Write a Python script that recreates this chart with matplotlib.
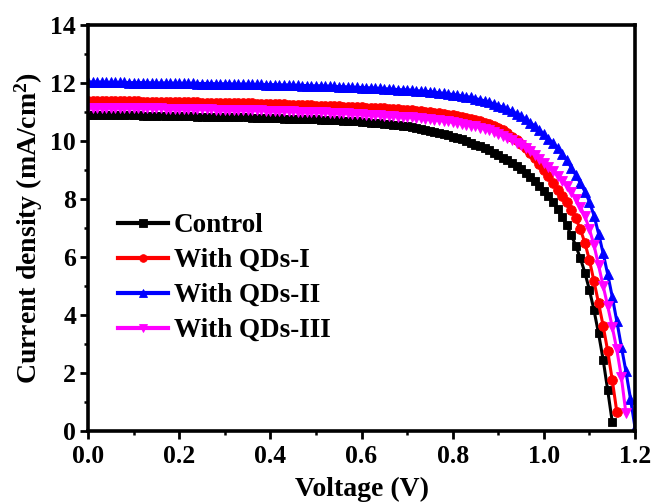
import numpy as np
import matplotlib
matplotlib.use("Agg")
import matplotlib.pyplot as plt
from matplotlib.ticker import MultipleLocator

# J-V sweep: current density (mA/cm^2) sampled every 10 mV from 0 V
voltage_step = 0.01

control = [
    10.90, 10.90, 10.90, 10.89, 10.89, 10.89, 10.89, 10.88, 10.88, 10.88,
    10.88, 10.88, 10.87, 10.87, 10.87, 10.87, 10.86, 10.86, 10.86, 10.86,
    10.86, 10.85, 10.85, 10.85, 10.84, 10.84, 10.84, 10.83, 10.83, 10.83,
    10.83, 10.82, 10.82, 10.81, 10.81, 10.81, 10.80, 10.80, 10.79, 10.79,
    10.79, 10.78, 10.78, 10.77, 10.77, 10.76, 10.76, 10.75, 10.75, 10.74,
    10.74, 10.73, 10.73, 10.72, 10.71, 10.71, 10.70, 10.69, 10.68, 10.67,
    10.66, 10.65, 10.63, 10.62, 10.60, 10.59, 10.58, 10.56, 10.54, 10.52,
    10.50, 10.47, 10.44, 10.41, 10.38, 10.35, 10.31, 10.27, 10.23, 10.19,
    10.14, 10.10, 10.05, 9.99, 9.93, 9.87, 9.81, 9.74, 9.67, 9.59,
    9.50, 9.42, 9.33, 9.23, 9.13, 9.02, 8.90, 8.76, 8.61, 8.45,
    8.28, 8.10, 7.90, 7.65, 7.38, 7.08, 6.75, 6.38, 5.95, 5.45,
    4.85, 4.15, 3.35, 2.45, 1.40, 0.30,
]

qds_1 = [
    11.38, 11.38, 11.38, 11.37, 11.37, 11.37, 11.37, 11.36, 11.36, 11.36,
    11.36, 11.36, 11.35, 11.35, 11.35, 11.35, 11.35, 11.34, 11.34, 11.34,
    11.34, 11.34, 11.33, 11.33, 11.33, 11.32, 11.32, 11.32, 11.31, 11.31,
    11.31, 11.30, 11.30, 11.30, 11.29, 11.29, 11.29, 11.28, 11.28, 11.27,
    11.27, 11.27, 11.26, 11.26, 11.25, 11.25, 11.24, 11.24, 11.23, 11.23,
    11.22, 11.22, 11.21, 11.20, 11.20, 11.19, 11.18, 11.18, 11.17, 11.16,
    11.16, 11.15, 11.14, 11.13, 11.12, 11.12, 11.11, 11.10, 11.09, 11.08,
    11.07, 11.06, 11.04, 11.03, 11.01, 10.99, 10.97, 10.95, 10.93, 10.91,
    10.89, 10.86, 10.83, 10.80, 10.76, 10.72, 10.68, 10.63, 10.58, 10.52,
    10.45, 10.36, 10.26, 10.15, 10.03, 9.90, 9.75, 9.58, 9.40, 9.20,
    9.00, 8.78, 8.55, 8.32, 8.10, 7.88, 7.62, 7.32, 6.95, 6.48,
    5.88, 5.15, 4.40, 3.62, 2.75, 1.75, 0.65,
]

qds_2 = [
    12.03, 12.03, 12.03, 12.03, 12.02, 12.02, 12.02, 12.02, 12.02, 12.01,
    12.01, 12.01, 12.01, 12.01, 12.00, 12.00, 12.00, 12.00, 12.00, 11.99,
    11.99, 11.99, 11.99, 11.99, 11.98, 11.98, 11.98, 11.98, 11.97, 11.97,
    11.97, 11.97, 11.96, 11.96, 11.96, 11.96, 11.95, 11.95, 11.95, 11.94,
    11.94, 11.94, 11.93, 11.93, 11.93, 11.92, 11.92, 11.91, 11.91, 11.90,
    11.90, 11.90, 11.89, 11.89, 11.88, 11.87, 11.87, 11.86, 11.85, 11.85,
    11.84, 11.83, 11.83, 11.82, 11.81, 11.80, 11.79, 11.78, 11.77, 11.76,
    11.76, 11.75, 11.73, 11.72, 11.71, 11.70, 11.68, 11.66, 11.64, 11.62,
    11.60, 11.58, 11.55, 11.53, 11.50, 11.46, 11.42, 11.38, 11.33, 11.28,
    11.22, 11.16, 11.09, 11.02, 10.94, 10.85, 10.75, 10.63, 10.51, 10.37,
    10.23, 10.08, 9.92, 9.75, 9.56, 9.34, 9.08, 8.82, 8.55, 8.25,
    7.90, 7.42, 6.80, 6.12, 5.40, 4.62, 3.78, 2.90, 2.05, 1.10,
    0.10,
]

qds_3 = [
    11.15, 11.15, 11.15, 11.14, 11.14, 11.14, 11.14, 11.13, 11.13, 11.13,
    11.13, 11.13, 11.12, 11.12, 11.12, 11.12, 11.12, 11.11, 11.11, 11.11,
    11.11, 11.11, 11.10, 11.10, 11.10, 11.09, 11.09, 11.09, 11.08, 11.08,
    11.08, 11.07, 11.07, 11.07, 11.06, 11.06, 11.06, 11.05, 11.05, 11.04,
    11.04, 11.04, 11.03, 11.03, 11.02, 11.02, 11.01, 11.01, 11.00, 11.00,
    10.99, 10.99, 10.98, 10.97, 10.97, 10.96, 10.95, 10.95, 10.94, 10.93,
    10.92, 10.91, 10.90, 10.89, 10.88, 10.87, 10.86, 10.85, 10.84, 10.83,
    10.82, 10.81, 10.79, 10.78, 10.76, 10.75, 10.73, 10.71, 10.69, 10.67,
    10.64, 10.62, 10.59, 10.56, 10.53, 10.50, 10.46, 10.42, 10.37, 10.32,
    10.24, 10.17, 10.10, 10.02, 9.94, 9.85, 9.75, 9.64, 9.52, 9.39,
    9.25, 9.10, 8.95, 8.80, 8.63, 8.45, 8.25, 8.00, 7.72, 7.40,
    6.95, 6.40, 5.70, 5.00, 4.30, 3.58, 2.80, 1.85, 0.60,
]

labels = ["Control", "With QDs-I", "With QDs-II", "With QDs-III"]
colors = ["#000000", "#ff0000", "#0000ff", "#ff00ff"]
markers = ["s", "o", "^", "v"]
marker_sizes = [6.0, 7.0, 7.5, 7.5]

x_ticks = [0.0, 0.2, 0.4, 0.6, 0.8, 1.0, 1.2]
y_ticks = [0, 2, 4, 6, 8, 10, 12, 14]

plt.rcParams["font.family"] = ["Liberation Serif", "DejaVu Serif"]
plt.rcParams["font.weight"] = "bold"
plt.rcParams["mathtext.fontset"] = "custom"
plt.rcParams["mathtext.rm"] = "Liberation Serif:bold"
plt.rcParams["mathtext.bf"] = "Liberation Serif:bold"
plt.rcParams["mathtext.default"] = "bf"

fig = plt.figure(figsize=(6.55, 5.03), dpi=100)
ax = fig.add_axes([0.1344, 0.1441, 0.8351, 0.8062])

for j, lab, col, mk, ms in zip([control, qds_1, qds_2, qds_3],
                               labels, colors, markers, marker_sizes):
    j = np.asarray(j)
    v = np.round(np.arange(len(j)) * voltage_step, 3)
    ax.plot(v, j, color=col, marker=mk, markersize=ms, linewidth=2.2,
            markeredgewidth=0.6, markeredgecolor=col, markerfacecolor=col,
            label=lab)

ax.set_xlim(0, 1.2)
ax.set_ylim(0, 14)
ax.set_xticks(x_ticks)
ax.set_yticks(y_ticks)
ax.set_xticklabels([f"{t:.1f}" for t in x_ticks])
ax.set_yticklabels([str(t) for t in y_ticks])
ax.xaxis.set_minor_locator(MultipleLocator(0.1))
ax.yaxis.set_minor_locator(MultipleLocator(1))

for s in ax.spines.values():
    s.set_linewidth(2.6)

ax.tick_params(which="major", direction="out", length=5.5, width=2.0,
               labelsize=18.5, pad=3, top=False, right=False)
ax.tick_params(axis="x", which="major", pad=5)
ax.tick_params(which="minor", direction="out", length=3.2, width=1.8,
               top=False, right=False)
for lbl in ax.get_xticklabels() + ax.get_yticklabels():
    lbl.set_fontweight("bold")

ax.set_xlabel("Voltage (V)", fontsize=20, fontweight="bold", labelpad=6)
ax.set_ylabel("Current density (mA/cm$^{2}$)", fontsize=20,
              fontweight="bold", labelpad=4)

leg = ax.legend(loc="upper left", bbox_to_anchor=(0.055, 0.536),
                frameon=False, fontsize=19.5, handlelength=1.85,
                handletextpad=0.2, labelspacing=0.37, borderaxespad=0,
                borderpad=0)
for h in leg.legend_handles:
    h.set_markersize(5.5)
    h.set_linewidth(3)
for t in leg.get_texts():
    t.set_fontweight("bold")

fig.savefig("out.png", dpi=100)
